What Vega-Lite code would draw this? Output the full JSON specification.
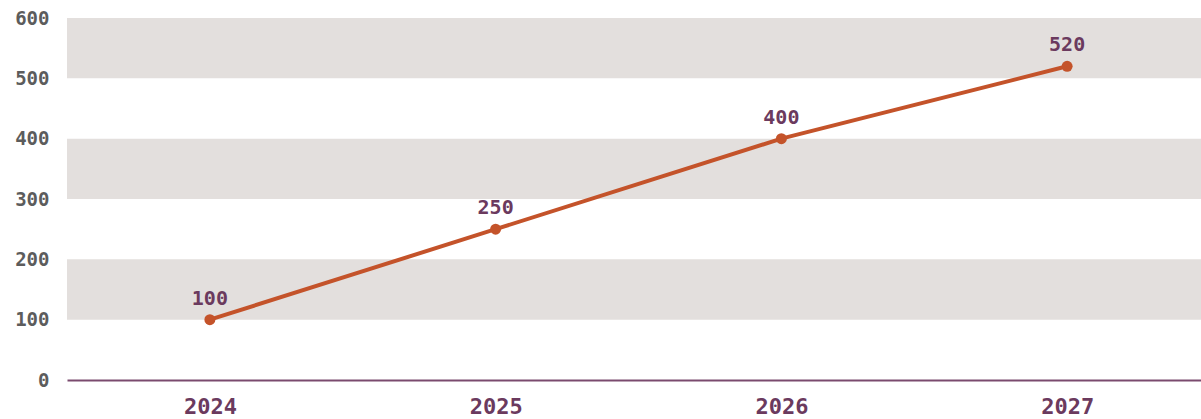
{
  "$schema": "https://vega.github.io/schema/vega-lite/v6.json",
  "autosize": {"type": "none"},
  "padding": {"left": 67, "top": 18, "right": 0, "bottom": 39},
  "width": 1143,
  "height": 362,
  "background": "#ffffff",
  "config": {"view": {"stroke": null}, "font": "DejaVu Sans Mono"},
  "layer": [
    {
      "data": {"values": [{"lo": 100, "hi": 200}, {"lo": 300, "hi": 400}, {"lo": 500, "hi": 600}]},
      "mark": {"type": "rect", "color": "#e3dfdd"},
      "encoding": {
        "y": {"field": "lo", "type": "quantitative", "scale": {"domain": [0, 600]}},
        "y2": {"field": "hi"}
      }
    },
    {
      "data": {"values": [
        {"year": "2024", "value": 100},
        {"year": "2025", "value": 250},
        {"year": "2026", "value": 400},
        {"year": "2027", "value": 520}
      ]},
      "encoding": {
        "x": {"field": "year", "type": "ordinal", "scale": {"type": "point", "padding": 0.5},
          "axis": {"title": null, "labelAngle": 0, "ticks": false, "domainColor": "#7a4a6e", "domainWidth": 2,
            "labelColor": "#6b3a5e", "labelFont": "DejaVu Sans Mono", "labelFontWeight": "bold", "labelFontSize": 22, "labelPadding": 16}},
        "y": {"field": "value", "type": "quantitative", "scale": {"domain": [0, 600]},
          "axis": {"title": null, "grid": false, "domain": false, "ticks": false, "values": [0,100,200,300,400,500,600], "labelOverlap": false,
            "labelColor": "#5c5c5c", "labelFont": "DejaVu Sans Mono", "labelFontWeight": "bold", "labelFontSize": 19, "labelPadding": 18}}
      },
      "layer": [
        {"mark": {"type": "line", "color": "#c4532a", "strokeWidth": 4}},
        {"mark": {"type": "point", "filled": true, "opacity": 1, "color": "#c4532a", "size": 120}},
        {"mark": {"type": "text", "baseline": "alphabetic", "dy": -15, "font": "DejaVu Sans Mono", "fontWeight": "bold", "fontSize": 20, "color": "#6b3a5e"},
          "encoding": {"text": {"field": "value", "type": "quantitative"}}}
      ]
    }
  ]
}
